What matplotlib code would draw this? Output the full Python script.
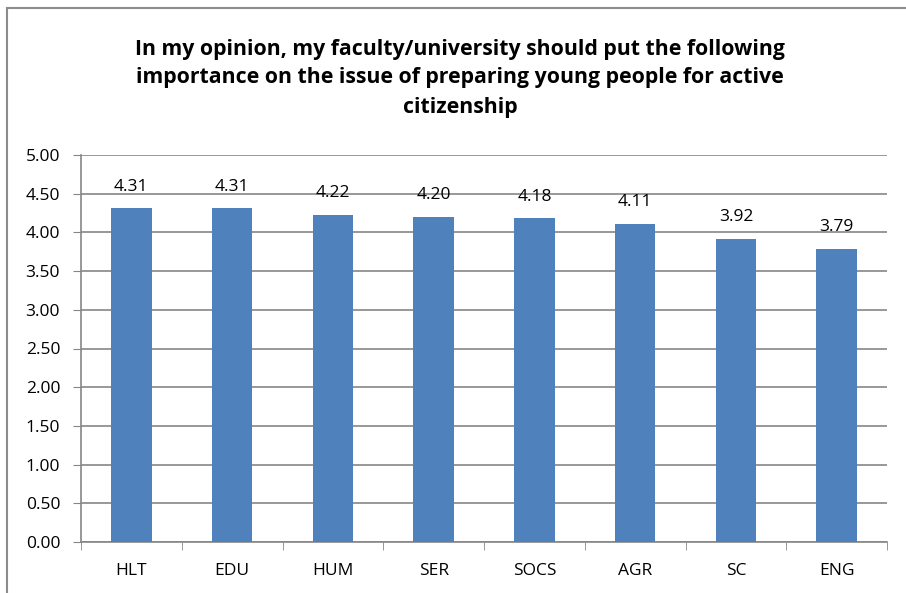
import matplotlib
matplotlib.use("Agg")
from matplotlib import pyplot as plt
from matplotlib.patches import Rectangle
import numpy as np

categories = ["HLT", "EDU", "HUM", "SER", "SOCS", "AGR", "SC", "ENG"]
values = [4.31, 4.31, 4.22, 4.20, 4.18, 4.11, 3.92, 3.79]
yticks = [0.0, 0.5, 1.0, 1.5, 2.0, 2.5, 3.0, 3.5, 4.0, 4.5, 5.0]
title = ("In my opinion, my faculty/university should put the following\n"
         "importance on the issue of preparing young people for active\n"
         "citizenship")

plt.rcParams["font.family"] = ["Open Sans", "DejaVu Sans"]
grid_color = "#868686"

fig = plt.figure(figsize=(9.06, 5.93), dpi=100)
ax = fig.add_axes([81 / 906, 51 / 593, 806 / 906, 387 / 593])

x = np.arange(len(categories))
ax.bar(x, values, width=0.4, color="#4F81BD", zorder=3)
for xi, v in zip(x, values):
    ax.annotate(f"{v:.2f}", (xi, v), xytext=(0, 10), textcoords="offset points",
                ha="center", va="bottom", fontsize=12.5)

ax.set_xlim(-0.5, len(categories) - 0.5)
ax.set_ylim(0, 5)
ax.set_yticks(yticks)
ax.set_yticklabels([f"{t:.2f}" for t in yticks], fontsize=12.5)
ax.set_xticks(x)
ax.set_xticklabels(categories, fontsize=12.5)
ax.set_xticks(np.arange(len(categories) + 1) - 0.5, minor=True)
ax.tick_params(axis="x", which="major", length=0, pad=15)
ax.tick_params(axis="x", which="minor", length=6, color=grid_color)
ax.tick_params(axis="y", length=6, color=grid_color, pad=9)
ax.yaxis.grid(True, color=grid_color, linewidth=1.2, zorder=0)
for s in ["top", "right"]:
    ax.spines[s].set_visible(False)
for s in ["left", "bottom"]:
    ax.spines[s].set_color(grid_color)
    ax.spines[s].set_linewidth(1.2)

fig.text(460 / 906, 1 - 78 / 593, title, ha="center", va="center",
         fontsize=15.3, fontweight="bold", linespacing=1.5)

fig.patches.append(Rectangle((7 / 906, -0.1), 1.2, 1 - 8 / 593 + 0.1,
                             transform=fig.transFigure, fill=False,
                             edgecolor="#8c8c8c", linewidth=1.5))

fig.savefig("out.png", dpi=100)
